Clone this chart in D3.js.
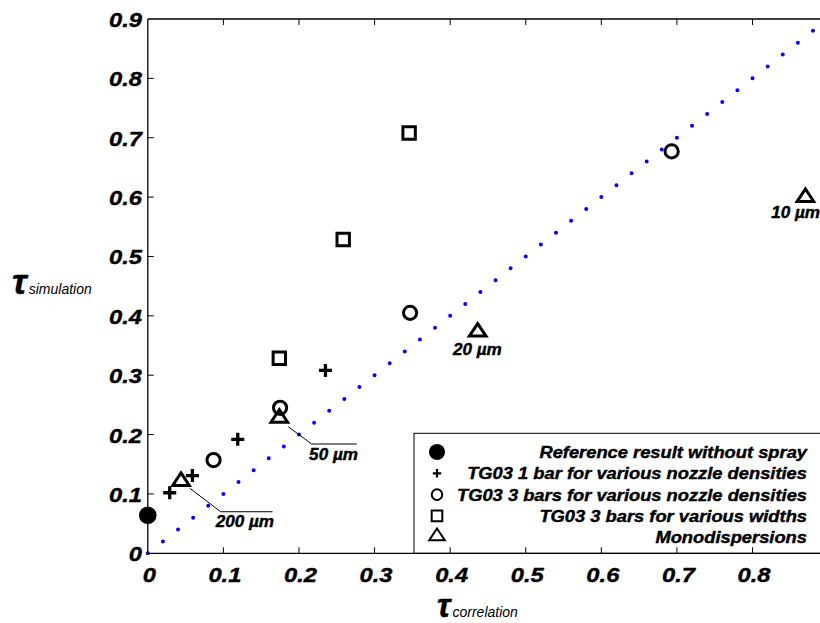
<!DOCTYPE html>
<html><head><meta charset="utf-8">
<script src="https://cdn.jsdelivr.net/npm/d3@7"></script>
<style>
html,body{margin:0;padding:0;background:#fff;}
svg{display:block;font-family:"Liberation Sans",Arial,sans-serif;}
.heavy{stroke:#000;stroke-width:0.4px;}
</style></head>
<body>
<svg id="c" width="820" height="623"></svg>
<script>
// ---- data ----
const xTicks = [0,0.1,0.2,0.3,0.4,0.5,0.6,0.7,0.8];
const yTicks = [0,0.1,0.2,0.3,0.4,0.5,0.6,0.7,0.8,0.9];
const refX = [0];
const refY = [0.064];
const tg1X = [0.029,0.059,0.119,0.235];
const tg1Y = [0.102,0.131,0.192,0.308];
const tg3nX = [0.087,0.175,0.347,0.693];
const tg3nY = [0.157,0.245,0.405,0.677];
const tg3wX = [0.174,0.2585,0.3457];
const tg3wY = [0.3285,0.5286,0.708];
const monoX = [0.0439,0.174,0.4364,0.870];
const monoY = [0.1235,0.230,0.375,0.6018];
const diagRange = [0,0.88];
const legendLabels = ["Reference result without spray","TG03 1 bar for various nozzle densities","TG03 3 bars for various nozzle densities","TG03 3 bars for various widths","Monodispersions"];
// annotation callouts (data units): polyline + label
const annotations = [
  {label:"200 µm", pts:[[0.0556,0.1096],[0.0964,0.070],[0.165,0.070]], tx:0.167, ty:0.045, anchor:"end"},
  {label:"50 µm", pts:[[0.1859,0.2132],[0.2168,0.1841],[0.2764,0.1841]], tx:0.278, ty:0.158, anchor:"end"},
  {label:"20 µm", pts:null, tx:0.436, ty:0.334, anchor:"middle"},
  {label:"10 µm", pts:null, tx:0.857, ty:0.565, anchor:"middle"}
];

// ---- layout ----
const svg = d3.select("#c");
const x = d3.scaleLinear().domain([0,0.9]).range([147.8,147.8+0.9*755.9]);
const y = d3.scaleLinear().domain([0,0.9]).range([553.3,19]);
const X0 = x(0), X1 = x(0.9), Y0 = y(0), Y1 = y(0.9);
const FF = "'Liberation Sans', Arial, sans-serif";

// stretched text helper (reference text is horizontally widened)
function stext(parent, tx, ty, str, font, anchor, sx){
  return parent.append("text")
    .attr("class","heavy")
    .attr("transform",`translate(${tx},${ty}) scale(${sx},1)`)
    .attr("text-anchor",anchor)
    .style("font",font).text(str);
}

// diagonal dotted line
const segLen = Math.hypot(x(0.02)-x(0), y(0)-y(0.02));
svg.append("line")
  .attr("x1",x(diagRange[0])).attr("y1",y(diagRange[0]))
  .attr("x2",x(diagRange[1])).attr("y2",y(diagRange[1]))
  .attr("stroke","#0000ff").attr("stroke-width",4)
  .attr("stroke-linecap","round")
  .attr("stroke-dasharray",`0 ${segLen}`);

// marker paths
function mk(type, s){
  switch(type){
    case "plus": return `M${-s},0H${s}M0,${-s}V${s}`;
    case "square": return `M${-s},${-s}H${s}V${s}H${-s}Z`;
    case "tri": return `M0,${-s*0.85}L${s},${s*0.65}L${-s},${s*0.65}Z`;
  }
}
const g = svg.append("g");
function zip(a,b){return a.map((v,i)=>[v,b[i]]);}
g.selectAll(".ref").data(zip(refX,refY)).enter().append("circle")
  .attr("cx",d=>x(d[0])).attr("cy",d=>y(d[1])).attr("r",8.8).attr("fill","#000");
g.selectAll(".tg1").data(zip(tg1X,tg1Y)).enter().append("path")
  .attr("transform",d=>`translate(${x(d[0])},${y(d[1])})`)
  .attr("d",mk("plus",6.5)).attr("stroke","#000").attr("stroke-width",3.3).attr("fill","none");
g.selectAll(".tg3n").data(zip(tg3nX,tg3nY)).enter().append("circle")
  .attr("cx",d=>x(d[0])).attr("cy",d=>y(d[1])).attr("r",6.6)
  .attr("fill","none").attr("stroke","#000").attr("stroke-width",3);
g.selectAll(".tg3w").data(zip(tg3wX,tg3wY)).enter().append("path")
  .attr("transform",d=>`translate(${x(d[0])},${y(d[1])})`)
  .attr("d",mk("square",6.2)).attr("stroke","#000").attr("stroke-width",3).attr("fill","none");
g.selectAll(".mono").data(zip(monoX,monoY)).enter().append("path")
  .attr("transform",d=>`translate(${x(d[0])},${y(d[1])})`)
  .attr("d",mk("tri",8.3)).attr("stroke","#000").attr("stroke-width",3).attr("stroke-linejoin","miter").attr("fill","none");

// annotations
annotations.forEach(a=>{
  if(a.pts){
    svg.append("path").attr("d",d3.line().x(p=>x(p[0])).y(p=>y(p[1]))(a.pts))
      .attr("fill","none").attr("stroke","#000").attr("stroke-width",1);
  }
  stext(svg, x(a.tx), y(a.ty), a.label, `bold italic 16px ${FF}`, a.anchor, 1.07);
});

// legend
const legL = 414, legT = 433.3;
svg.append("rect").attr("x",legL).attr("y",legT).attr("width",830-legL).attr("height",Y0-legT)
  .attr("fill","#fff").attr("stroke","#000").attr("stroke-width",1);
const rowY = i => 452 + i*21.3;
const lg = svg.append("g");
legendLabels.forEach((lab,i)=>{
  stext(lg, 807, rowY(i)+6, lab, `bold italic 16px ${FF}`, "end", 1.145);
});
const lx = 437;
lg.append("circle").attr("cx",lx).attr("cy",rowY(0)).attr("r",8).attr("fill","#000");
lg.append("path").attr("transform",`translate(${lx},${rowY(1)})`).attr("d",mk("plus",4.2))
  .attr("stroke","#000").attr("stroke-width",2.2).attr("fill","none");
lg.append("circle").attr("cx",lx).attr("cy",rowY(2)).attr("r",5.3)
  .attr("fill","none").attr("stroke","#000").attr("stroke-width",2);
lg.append("path").attr("transform",`translate(${lx},${rowY(3)})`).attr("d",mk("square",5.3))
  .attr("stroke","#000").attr("stroke-width",2).attr("fill","none");
lg.append("path").attr("transform",`translate(${lx},${rowY(4)-2})`).attr("d",mk("tri",7.8))
  .attr("stroke","#000").attr("stroke-width",2).attr("fill","none");

// axes box
const ax = svg.append("g").attr("stroke","#000").attr("fill","none");
ax.append("line").attr("x1",X0).attr("x2",X0).attr("y1",Y0).attr("y2",Y1).attr("stroke-width",1.3);
ax.append("line").attr("x1",X0).attr("x2",X1).attr("y1",Y0).attr("y2",Y0).attr("stroke-width",1.3);
ax.append("line").attr("x1",X0).attr("x2",X1).attr("y1",Y1).attr("y2",Y1).attr("stroke-width",1.3);
ax.append("line").attr("x1",X1).attr("x2",X1).attr("y1",Y0).attr("y2",Y1).attr("stroke-width",1.3);
xTicks.forEach(t=>{
  if(t===0) return;
  ax.append("line").attr("x1",x(t)).attr("x2",x(t)).attr("y1",Y0).attr("y2",Y0-6).attr("stroke-width",1);
  ax.append("line").attr("x1",x(t)).attr("x2",x(t)).attr("y1",Y1).attr("y2",Y1+6).attr("stroke-width",1);
});
yTicks.forEach(t=>{
  if(t===0||t===0.9) return;
  ax.append("line").attr("x1",X0).attr("x2",X0+6).attr("y1",y(t)).attr("y2",y(t)).attr("stroke-width",1);
});
// tick labels
const tickFont = `bold italic 21px ${FF}`;
const xg = svg.append("g"), yg = svg.append("g");
xTicks.forEach(t=>stext(xg, x(t)+1.5, 582, d3.format("")(t), tickFont, "middle", 1.13));
yTicks.forEach(t=>stext(yg, 142, y(t)+8, d3.format("")(t), tickFont, "end", 1.13));

// axis titles
const yl = svg.append("text").attr("x",12).attr("y",294);
yl.append("tspan").attr("class","heavy").style("font",`bold italic 36px ${FF}`).text("τ");
yl.append("tspan").attr("dx",2).style("font",`italic 14px ${FF}`).text("simulation");
const xl = svg.append("text").attr("x",437).attr("y",617);
xl.append("tspan").attr("class","heavy").style("font",`bold italic 33px ${FF}`).text("τ");
xl.append("tspan").attr("dx",2).style("font",`italic 14px ${FF}`).text("correlation");
</script>
</body></html>
